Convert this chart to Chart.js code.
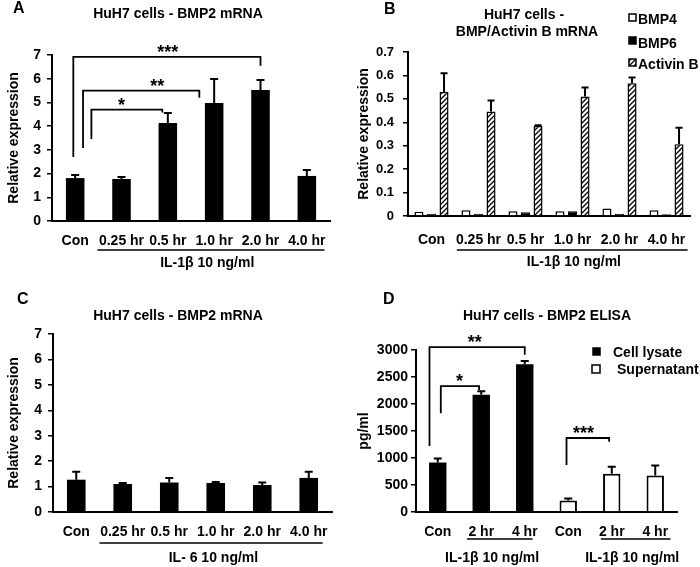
<!DOCTYPE html>
<html lang="en">
<head>
    <meta charset="UTF-8">
    <style>
        body { margin: 0; background: #fff; }
        canvas { position: absolute; }
    </style>
</head>
<body>
<script src="https://cdn.jsdelivr.net/npm/chart.js@4.4.0/dist/chart.umd.min.js"></script>
<canvas id="chartA" width="350" height="290" style="left:0;top:0"></canvas>
<canvas id="chartB" width="350" height="290" style="left:350px;top:0"></canvas>
<canvas id="chartC" width="350" height="277" style="left:0;top:290px"></canvas>
<canvas id="chartD" width="350" height="277" style="left:350px;top:290px"></canvas>
<script>
    // categories
    var timeLabels = ['Con', '0.25 hr', '0.5 hr', '1.0 hr', '2.0 hr', '4.0 hr'];
    var elisaLabels = ['Con', '2 hr', '4 hr', 'Con', '2 hr', '4 hr'];

    // A: BMP2 mRNA after IL-1b
    var bmp2IL1 = [1.81, 1.77, 4.13, 4.98, 5.52, 1.90];
    var bmp2IL1Err = [0.13, 0.09, 0.42, 1.01, 0.43, 0.25];

    // B: BMP4 / BMP6 / Activin B mRNA
    var bmp4 = [0.018, 0.025, 0.020, 0.020, 0.032, 0.025];
    var bmp6 = [0.010, 0.010, 0.016, 0.020, 0.010, 0.007];
    var activinB = [0.529, 0.446, 0.384, 0.510, 0.567, 0.306];
    var activinBErr = [0.080, 0.047, 0.003, 0.038, 0.024, 0.071];

    // C: BMP2 mRNA after IL-6
    var bmp2IL6 = [1.27, 1.10, 1.16, 1.14, 1.06, 1.34];
    var bmp2IL6Err = [0.31, 0.04, 0.18, 0.04, 0.10, 0.24];

    // D: BMP2 ELISA (pg/ml)
    var cellLysate = [916, 2169, 2737, null, null, null];
    var cellLysateErr = [73, 67, 60, null, null, null];
    var supernatant = [null, null, null, 214, 709, 678];
    var supernatantErr = [null, null, null, 37, 128, 183];

    var FONT = 'Arial, "Liberation Sans", sans-serif';
    Chart.defaults.font.family = FONT;
    Chart.defaults.color = '#000';

    // diagonal hatch for Activin B
    function hatch() {
        var c = document.createElement('canvas');
        c.width = 5; c.height = 5;
        var g = c.getContext('2d');
        g.fillStyle = '#fff';
        g.fillRect(0, 0, 5, 5);
        g.strokeStyle = '#000';
        g.lineWidth = 1.3;
        g.beginPath();
        g.moveTo(-1, 6); g.lineTo(6, -1);
        g.moveTo(-1, 1); g.lineTo(1, -1);
        g.moveTo(4, 6); g.lineTo(6, 4);
        g.stroke();
        return g.createPattern(c, 'repeat');
    }
    var stripes = hatch();

    // error bars, significance brackets, titles, legends and group labels
    function decor(cfg) {
        return {
            id: 'decor',
            afterDatasetsDraw: function (chart) {
                var ctx = chart.ctx, xs = chart.scales.x, ys = chart.scales.y;
                ctx.save();
                ctx.strokeStyle = '#000';
                ctx.fillStyle = '#000';
                ctx.lineWidth = 2;
                (cfg.errors || []).forEach(function (errs, di) {
                    if (!errs) return;
                    var vals = chart.data.datasets[di].data;
                    chart.getDatasetMeta(di).data.forEach(function (el, i) {
                        if (vals[i] == null || !errs[i]) return;
                        var top = ys.getPixelForValue(vals[i] + errs[i]);
                        ctx.beginPath();
                        ctx.moveTo(el.x, el.y);
                        ctx.lineTo(el.x, top);
                        ctx.moveTo(el.x - cfg.cap / 2, top);
                        ctx.lineTo(el.x + cfg.cap / 2, top);
                        ctx.stroke();
                    });
                });
                (cfg.brackets || []).forEach(function (b) {
                    var x1 = xs.getPixelForValue(b.from), x2 = xs.getPixelForValue(b.to);
                    var yt = ys.getPixelForValue(b.top);
                    ctx.lineWidth = 1.8;
                    ctx.beginPath();
                    ctx.moveTo(x1, ys.getPixelForValue(b.fromBase));
                    ctx.lineTo(x1, yt);
                    ctx.lineTo(x2, yt);
                    ctx.lineTo(x2, ys.getPixelForValue(b.toBase));
                    ctx.stroke();
                    ctx.font = 'bold 18px ' + FONT;
                    ctx.textAlign = 'center';
                    ctx.textBaseline = 'alphabetic';
                    ctx.fillText(b.stars, xs.getPixelForValue(b.starAt), yt + 1);
                });
                ctx.restore();
            },
            afterDraw: function (chart) {
                var ctx = chart.ctx, xs = chart.scales.x;
                ctx.save();
                ctx.fillStyle = '#000';
                ctx.strokeStyle = '#000';
                ctx.textBaseline = 'alphabetic';
                ctx.font = 'bold 16px ' + FONT;
                ctx.textAlign = 'left';
                ctx.fillText(cfg.letter[0], cfg.letter[1], cfg.letter[2]);
                ctx.font = 'bold 14px ' + FONT;
                ctx.textAlign = 'center';
                cfg.title.forEach(function (t) { ctx.fillText(t[0], t[1], t[2]); });
                (cfg.groups || []).forEach(function (g) {
                    ctx.lineWidth = 1.5;
                    ctx.beginPath();
                    ctx.moveTo(xs.getPixelForValue(g.from), g.lineY);
                    ctx.lineTo(xs.getPixelForValue(g.to), g.lineY);
                    ctx.stroke();
                    ctx.textAlign = 'center';
                    ctx.fillText(g.text, xs.getPixelForValue(g.at), g.textY);
                });
                (cfg.legend || []).forEach(function (l) {
                    ctx.fillStyle = l.fill;
                    ctx.fillRect(l.x, l.y, l.size, l.size);
                    ctx.lineWidth = 1.5;
                    ctx.strokeRect(l.x, l.y, l.size, l.size);
                    ctx.fillStyle = '#000';
                    ctx.textAlign = 'left';
                    ctx.fillText(l.text, l.tx, l.ty);
                });
                ctx.restore();
            }
        };
    }

    function makeChart(id, labels, datasets, o) {
        return new Chart(document.getElementById(id), {
            type: 'bar',
            data: { labels: labels, datasets: datasets },
            options: {
                responsive: false,
                animation: false,
                layout: { padding: { top: o.padTop, right: o.padRight, left: 0, bottom: 0 } },
                plugins: { legend: { display: false }, tooltip: { enabled: false } },
                scales: {
                    x: {
                        grid: { display: false },
                        border: { display: true, color: '#000', width: 2 },
                        ticks: { font: { size: 14, weight: 'bold' }, padding: o.xPad, maxRotation: 0, autoSkip: false },
                        afterFit: function (s) { s.height = o.xHeight; }
                    },
                    y: {
                        min: 0, max: o.yMax,
                        ticks: {
                            stepSize: o.step, font: { size: o.yFont, weight: 'bold' }, padding: o.yPad,
                            callback: function (v) { return String(Math.round(v * 10) / 10); }
                        },
                        grid: { drawOnChartArea: false, color: '#000', lineWidth: 1.5, tickLength: 5 },
                        border: { display: true, color: '#000', width: 2 },
                        title: { display: true, text: o.yTitle, font: { size: 14, weight: 'bold' }, padding: { top: 6, bottom: 0 } },
                        afterFit: function (s) { s.width = o.yWidth; }
                    }
                }
            },
            plugins: [decor(o.decor)]
        });
    }

    // Panel A
    makeChart('chartA', timeLabels, [
        { data: bmp2IL1, backgroundColor: '#000', barPercentage: 0.4, categoryPercentage: 1 }
    ], {
        padTop: 55, padRight: 20, xHeight: 69, yWidth: 52, yMax: 7, step: 1, yFont: 14, yPad: 6, xPad: 4,
        yTitle: 'Relative expression',
        decor: {
            letter: ['A', 13, 13], cap: 8,
            title: [['HuH7 cells - BMP2 mRNA', 178, 18]],
            errors: [bmp2IL1Err],
            brackets: [
                { from: -0.04, to: 4.0, top: 6.92, fromBase: 2.7, toBase: 6.55, stars: '***', starAt: 2.0 },
                { from: 0.17, to: 2.68, top: 5.5, fromBase: 3.08, toBase: 5.2, stars: '**', starAt: 1.77 },
                { from: 0.35, to: 1.88, top: 4.7, fromBase: 3.46, toBase: 4.58, stars: '*', starAt: 1.0 }
            ],
            groups: [{ from: 0.48, to: 5.38, lineY: 250, text: 'IL-1\u03b2 10 ng/ml', at: 2.85, textY: 267 }]
        }
    });

    // Panel B
    makeChart('chartB', timeLabels, [
        { data: bmp4, backgroundColor: '#fff', borderColor: '#000', borderWidth: 1.5, barPercentage: 0.72, categoryPercentage: 0.8 },
        { data: bmp6, backgroundColor: '#000', borderColor: '#000', borderWidth: 1, barPercentage: 0.72, categoryPercentage: 0.8 },
        { data: activinB, backgroundColor: stripes, borderColor: '#000', borderWidth: 1.5, barPercentage: 0.72, categoryPercentage: 0.8 }
    ], {
        padTop: 52, padRight: 10, xHeight: 74, yWidth: 58, yMax: 0.7, step: 0.1, yFont: 13, yPad: 9, xPad: 8,
        yTitle: 'Relative expression',
        decor: {
            letter: ['B', 34, 14], cap: 7,
            title: [['HuH7 cells -', 174, 19], ['BMP/Activin B mRNA', 177, 36]],
            errors: [null, null, activinBErr],
            groups: [{ from: 0.54, to: 5.45, lineY: 250, text: 'IL-1\u03b2 10 ng/ml', at: 3.03, textY: 266 }],
            legend: [
                { fill: '#fff', x: 279, y: 14, size: 7, text: 'BMP4', tx: 288, ty: 24 },
                { fill: '#000', x: 279, y: 37, size: 7, text: 'BMP6', tx: 288, ty: 48 },
                { fill: stripes, x: 279, y: 59, size: 7, text: 'Activin B', tx: 288, ty: 69 }
            ]
        }
    });

    // Panel C
    makeChart('chartC', timeLabels, [
        { data: bmp2IL6, backgroundColor: '#000', barPercentage: 0.4, categoryPercentage: 1 }
    ], {
        padTop: 44, padRight: 18, xHeight: 55, yWidth: 53, yMax: 7, step: 1, yFont: 14, yPad: 6, xPad: 4,
        yTitle: 'Relative expression',
        decor: {
            letter: ['C', 17, 14], cap: 8,
            title: [['HuH7 cells - BMP2 mRNA', 178, 30]],
            errors: [bmp2IL6Err],
            groups: [{ from: 0.5, to: 5.3, lineY: 253, text: 'IL- 6 10 ng/ml', at: 2.95, textY: 272 }]
        }
    });

    // Panel D
    makeChart('chartD', elisaLabels, [
        { data: cellLysate, backgroundColor: '#000', barPercentage: 0.4, categoryPercentage: 1, grouped: false },
        { data: supernatant, backgroundColor: '#fff', borderColor: '#000', borderWidth: 2, barPercentage: 0.4, categoryPercentage: 1, grouped: false }
    ], {
        padTop: 60, padRight: 23, xHeight: 55, yWidth: 66, yMax: 3000, step: 500, yFont: 14, yPad: 3, xPad: 4,
        yTitle: 'pg/ml',
        decor: {
            letter: ['D', 33, 14], cap: 8,
            title: [['HuH7 cells - BMP2 ELISA', 197, 30]],
            errors: [cellLysateErr, supernatantErr],
            brackets: [
                { from: -0.19, to: 2.0, top: 3055, fromBase: 1220, toBase: 2910, stars: '**', starAt: 0.85 },
                { from: 0.07, to: 0.95, top: 2330, fromBase: 1830, toBase: 2260, stars: '*', starAt: 0.5 },
                { from: 2.96, to: 3.94, top: 1370, fromBase: 870, toBase: 1300, stars: '***', starAt: 3.35 }
            ],
            groups: [
                { from: 0.67, to: 2.18, lineY: 249, text: 'IL-1\u03b2 10 ng/ml', at: 1.25, textY: 272 },
                { from: 3.75, to: 5.35, lineY: 249, text: 'IL-1\u03b2 10 ng/ml', at: 4.47, textY: 272 }
            ],
            legend: [
                { fill: '#000', x: 243, y: 58, size: 7, text: 'Cell lysate', tx: 263, ty: 67 },
                { fill: '#fff', x: 242, y: 75, size: 8, text: 'Supernatant', tx: 267, ty: 84 }
            ]
        }
    });
</script>
</body>
</html>
